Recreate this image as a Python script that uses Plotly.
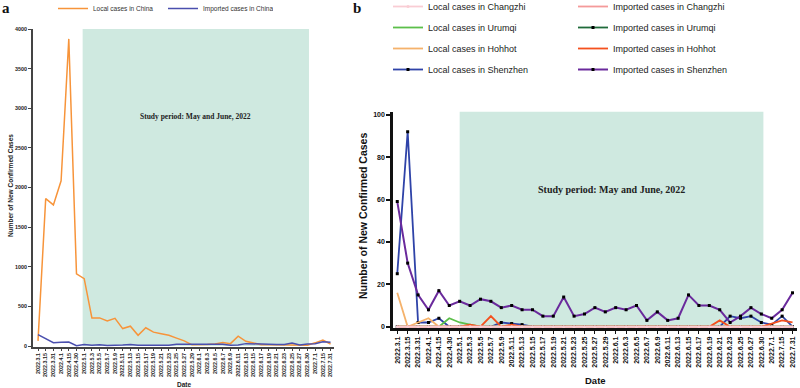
import plotly.graph_objects as go

dates = ["2022.3.1", "2022.3.15", "2022.3.31", "2022.4.1", "2022.4.15", "2022.4.30",
         "2022.5.1", "2022.5.3", "2022.5.5", "2022.5.7", "2022.5.9", "2022.5.11", "2022.5.13",
         "2022.5.15", "2022.5.17", "2022.5.19", "2022.5.21", "2022.5.23", "2022.5.25",
         "2022.5.27", "2022.5.29", "2022.6.1", "2022.6.3", "2022.6.5", "2022.6.7", "2022.6.9",
         "2022.6.11", "2022.6.13", "2022.6.15", "2022.6.17", "2022.6.19", "2022.6.21",
         "2022.6.23", "2022.6.25", "2022.6.27", "2022.6.30", "2022.7.1", "2022.7.15", "2022.7.31"]

# Panel a: China
local_china = [65, 1860, 1780, 2085, 3875, 910, 850, 355, 355, 315, 350, 220, 250, 135, 230,
               175, 155, 135, 100, 65, 15, 15, 20, 25, 45, 30, 125, 60, 40, 15, 15, 14, 12,
               5, 3, 10, 40, 75, 25]
imported_china = [143, 90, 42, 46, 50, 4, 20, 10, 15, 8, 8, 12, 20, 10, 10, 12, 8, 10, 22,
                  22, 15, 18, 20, 15, 22, 10, 12, 30, 25, 20, 22, 20, 18, 38, 12, 25, 30, 55, 48]

# Panel b: cities
local_changzhi = [0] * 39
imported_changzhi = [0] * 39
local_urumqi = [0, 0, 0, 0, 0, 4, 2, 1] + [0] * 31
imported_urumqi = [0] * 39
local_hohhot = [16, 0, 2, 4] + [0] * 35
imported_hohhot = [0, 0, 0, 0, 0, 0, 0, 1, 0, 5, 0, 1, 0, 0, 0, 0, 0, 0, 0, 0, 0, 0, 0, 0,
                   0, 0, 0, 0, 0, 0, 0, 3, 0, 0, 0, 0, 1.5, 3, 2]
local_shenzhen = [25, 92, 2, 2, 4, 0, 0, 0, 0, 0, 2, 1.5, 1, 0, 0, 0, 0, 0, 0, 0, 0, 0, 0, 0,
                  0, 0, 0, 0, 0, 0, 0, 0, 5, 4, 5, 2, 1, 5, 0]
imported_shenzhen = [59, 30, 15, 8, 17, 10, 12, 10, 13, 12, 9, 10, 8, 8, 5, 5, 14, 5, 6, 9, 7,
                     9, 8, 10, 3, 7, 3, 4, 15, 10, 10, 8, 2, 5, 9, 6, 4, 8, 16]

study_start = "2022.5.1"
study_end = "2022.6.30"
study_text = "Study period: May and June, 2022"

SANS = "Arial, Liberation Sans, sans-serif"
SERIF = "Times New Roman, Liberation Serif, serif"
SHADE = "#cfe9e0"

fig = go.Figure()

# ---- panel a traces
fig.add_trace(go.Scatter(x=dates, y=local_china, mode="lines", name="Local cases in China",
                         line=dict(color="#f7943a", width=1.5), xaxis="x", yaxis="y",
                         legend="legend"))
fig.add_trace(go.Scatter(x=dates, y=imported_china, mode="lines", name="Imported cases in China",
                         line=dict(color="#4a4fae", width=1.5), xaxis="x", yaxis="y",
                         legend="legend"))

# ---- panel b traces (drawing order; legend order via legendrank)
def bt(y, name, color, leg, rank, marker=None, width=1.8):
    kw = dict(x=dates, y=y, name=name, xaxis="x2", yaxis="y2", legend=leg,
              legendrank=rank, legendgroup=name,
              line=dict(color=color, width=width))
    if marker:
        kw["mode"] = "lines+markers"
        kw["marker"] = marker
    else:
        kw["mode"] = "lines"
    return go.Scatter(**kw)

dot = dict(color="black", size=3, symbol="square")
fig.add_trace(bt(local_shenzhen, "Local cases in Shenzhen", "#2f43a8", "legend2", 4, dot))
fig.add_trace(bt(imported_shenzhen, "Imported cases in Shenzhen", "#6a2a9c", "legend3", 4, dot, 2))
fig.add_trace(bt(imported_urumqi, "Imported cases in Urumqi", "#1f6b3a", "legend3", 2, dot))
fig.add_trace(bt(local_urumqi, "Local cases in Urumqi", "#5cbf4a", "legend2", 2))
fig.add_trace(bt(local_hohhot, "Local cases in Hohhot", "#f5b26b", "legend2", 3))
fig.add_trace(bt(imported_hohhot, "Imported cases in Hohhot", "#f4511e", "legend3", 3))
fig.add_trace(bt(imported_changzhi, "Imported cases in Changzhi", "#f49a9a", "legend3", 1))
fig.add_trace(bt(local_changzhi, "Local cases in Changzhi", "#f9cdd4", "legend2", 1,
                 dict(color="#f9cdd4", size=3, symbol="circle")))

i0 = dates.index(study_start)
i1 = dates.index(study_end)

# shaded study periods
fig.add_shape(type="rect", xref="x", yref="y", x0=i0 - 0.2, x1=i1 + 0.2, y0=0, y1=4000,
              fillcolor=SHADE, line=dict(width=0), layer="below")
fig.add_shape(type="rect", xref="x2", yref="y2", x0=i0, x1=i1 + 0.2, y0=0, y1=101.5,
              fillcolor=SHADE, line=dict(width=0), layer="below")

C = dict(xanchor="center", yanchor="middle", showarrow=False)
ann = []
ann.append(dict(x=(i0 + i1) / 2, y=2900, xref="x", yref="y", text="<b>" + study_text + "</b>",
                font=dict(family=SERIF, size=7.5, color="#222"), **C))
ann.append(dict(x=(i0 + i1) / 2 + 0.1, y=64.5, xref="x2", yref="y2", text="<b>" + study_text + "</b>",
                font=dict(family=SERIF, size=10, color="#222"), **C))
# axis titles
ann.append(dict(x=10 / 800, y=1 - 186 / 388, xref="paper", yref="paper", textangle=-90,
                text="<b>Number of New Confirmed Cases</b>",
                font=dict(family=SANS, size=6.5, color="#222"), **C))
ann.append(dict(x=184 / 800, y=1 - 384 / 388, xref="paper", yref="paper", text="<b>Date</b>",
                font=dict(family=SANS, size=6.5, color="#222"), **C))
ann.append(dict(x=363 / 800, y=1 - 216 / 388, xref="paper", yref="paper", textangle=-90,
                text="<b>Number of New Confirmed Cases</b>",
                font=dict(family=SANS, size=10.5, color="#111"), **C))
ann.append(dict(x=595 / 800, y=1 - 380 / 388, xref="paper", yref="paper", text="<b>Date</b>",
                font=dict(family=SANS, size=9.5, color="#111"), **C))
# panel letters
ann.append(dict(x=6 / 800, y=1 - 8 / 388, xref="paper", yref="paper", text="<b>a</b>",
                font=dict(family=SERIF, size=15, color="#111"), **C))
ann.append(dict(x=357 / 800, y=1 - 8 / 388, xref="paper", yref="paper", text="<b>b</b>",
                font=dict(family=SERIF, size=15, color="#111"), **C))

tick_a = dict(family=SANS, size=5.4, color="#222", weight="bold")
tick_b = dict(family=SANS, size=7, color="#111", weight="bold")

fig.update_layout(
    width=800, height=388,
    margin=dict(l=0, r=0, t=0, b=0, autoexpand=False),
    paper_bgcolor="white", plot_bgcolor="rgba(0,0,0,0)",
    annotations=ann,
    xaxis=dict(domain=[33 / 800, 334 / 800], range=[-0.65, 38.45], type="category",
               tickangle=-90, tickfont=tick_a, showgrid=False, zeroline=False,
               showline=True, linecolor="#444", linewidth=1.5, ticks="outside",
               ticklen=2, tickwidth=1, tickcolor="#444", anchor="y"),
    yaxis=dict(domain=[1 - 347.2 / 388, 1 - 29 / 388], range=[-15, 4000],
               tickvals=[0, 500, 1000, 1500, 2000, 2500, 3000, 3500, 4000],
               tickfont=tick_a, showgrid=False, zeroline=False,
               showline=True, linecolor="#444", linewidth=2, ticks="outside",
               ticklen=3, tickwidth=1, tickcolor="#444", anchor="x"),
    xaxis2=dict(domain=[393 / 800, 797 / 800], range=[-0.41, 38.43], type="category",
                tickangle=-90, tickfont=tick_b, showgrid=False, zeroline=False,
                showline=True, linecolor="#111", linewidth=2.5, ticks="outside",
                ticklen=3, tickwidth=1, tickcolor="#111", anchor="y2"),
    yaxis2=dict(domain=[1 - 328 / 388, 1 - 111.5 / 388], range=[-0.6, 101.5],
                tickvals=[0, 20, 40, 60, 80, 100], tickfont=tick_b, showgrid=False,
                zeroline=False, showline=True, linecolor="#111", linewidth=2.5,
                ticks="outside", ticklen=4, tickwidth=1.5, tickcolor="#111", anchor="x2"),
    legend=dict(orientation="h", x=53 / 800, y=1.0 + 6 / 388, xanchor="left", yanchor="top",
                font=dict(family=SANS, size=6.5, color="#333"), bgcolor="rgba(0,0,0,0)",
                itemwidth=30, entrywidth=65, entrywidthmode="pixels"),
    legend2=dict(orientation="v", x=388 / 800, y=1.0 + 8 / 388, xanchor="left", yanchor="top",
                 font=dict(family=SANS, size=9, color="#222"), bgcolor="rgba(0,0,0,0)",
                 itemwidth=30, tracegroupgap=2, traceorder="grouped"),
    legend3=dict(orientation="v", x=573 / 800, y=1.0 + 8 / 388, xanchor="left", yanchor="top",
                 font=dict(family=SANS, size=9, color="#222"), bgcolor="rgba(0,0,0,0)",
                 itemwidth=30, tracegroupgap=2, traceorder="grouped"),
)

fig.write_html("out.html", config={"displayModeBar": False},
               post_script="document.body.style.margin='0px';")
